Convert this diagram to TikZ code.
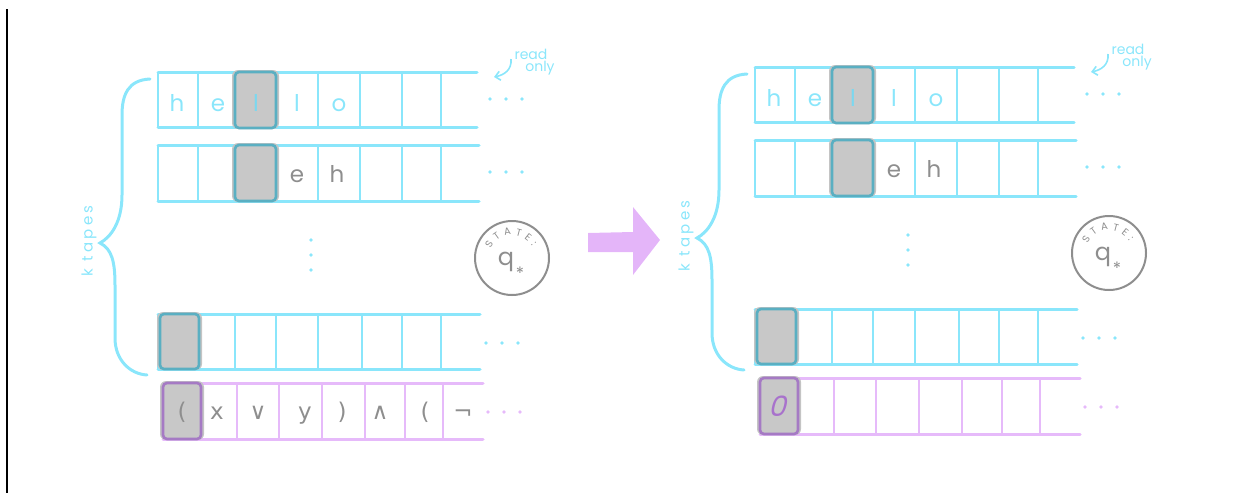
\documentclass[tikz,border=0pt]{standalone}
\usepackage{fontspec}
\setmainfont{Poppins}
\newfontfamily\symfont{DejaVu Sans}
\newfontfamily\spacedfont[LetterSpace=22]{Poppins}
\usetikzlibrary{arrows.meta,decorations.text}
\definecolor{tapecyan}{HTML}{8AE6FB}
\definecolor{tapepurple}{HTML}{E6BAFA}
\definecolor{headteal}{HTML}{5AAFC2}
\definecolor{headpurple}{HTML}{A57AC4}
\definecolor{headfill}{HTML}{C8C8C8}
\definecolor{shadowgray}{HTML}{C4C4C4}
\definecolor{inkgray}{HTML}{8E8E8E}
\definecolor{arrowpurple}{HTML}{E4B5F9}
\definecolor{cyanink}{HTML}{7AD8F0}
\definecolor{zeroink}{HTML}{A872CC}

\newcommand\tapedraw[6]{%
  \draw[tapeline,#6] (#1,#2) -- (#4,#2) (#1,#3) -- (#4,#3);
  \draw[cellline,#6] (#1,#2) -- (#1,#3);
  \foreach \d in {#5} {\draw[cellline,#6] (\d,#2) -- (\d,#3);}
}
\newcommand\headdraw[5]{%
  \fill[shadowbox] (#1-3,#2-2) rectangle (#3+3,#4+1);
  \draw[headbox,draw=#5] (#1,#2) rectangle (#3,#4);
}
\newcommand\commonpanel[1]{%
  % tapes
  \tapedraw{158}{72}{127}{477}{198,235,276,318,360,402,441}{tapecyan}
  \tapedraw{158}{145}{201}{479}{198,235,276,318,360,402,441}{tapecyan}
  \tapedraw{158}{314}{369}{480}{199,235,276,318,362,402,441}{tapecyan}
  \tapedraw{163}{383}{439}{483}{201,237,279,322,365,405,443}{tapepurple}
  % heads
  \headdraw{235}{72}{276}{128}{headteal}
  \headdraw{235}{145}{276}{201}{headteal}
  \headdraw{160}{314}{199}{369}{headteal}
  \headdraw{163}{383}{201}{439}{headpurple}
  % tape 1 letters
  \node[tapech,text=tapecyan] (h#1) at (177,111) {h};
  \node[tapech,text=tapecyan] (e#1) at (218,111) {e};
  \node[tapech,text=cyanink] (la#1) at (256,111) {l};
  \node[tapech,text=tapecyan] (lb#1) at (297,111) {l};
  \node[tapech,text=tapecyan] (o#1) at (339,111) {o};
  % tape 2 letters
  \node[tapech,text=inkgray] (ee#1) at (297,182) {e};
  \node[tapech,text=inkgray] (hh#1) at (337,182) {h};
  % ellipses
  \foreach \x [count=\i] in {490,506,522} {\node[dot,fill=tapecyan] (da\i#1) at (\x,99) {};}
  \foreach \x [count=\i] in {490,506,522} {\node[dot,fill=tapecyan] (db\i#1) at (\x,172) {};}
  \foreach \x [count=\i] in {486,502,518} {\node[dot,fill=tapecyan] (dc\i#1) at (\x,343) {};}
  \foreach \x [count=\i] in {488,504,520} {\node[dot,fill=tapepurple] (dd\i#1) at (\x,412) {};}
  \foreach \y [count=\i] in {240,255,270} {\node[dot,fill=tapecyan] (dv\i#1) at (311,\y) {};}
  % brace
  \coordinate (bt#1) at (150,79);
  \coordinate (bb#1) at (147,375);
  \draw[brace] (bt#1) .. controls (128,80) and (122,95) .. (122,115) -- (122,195)
     .. controls (122,222) and (111,237) .. (100,243)
     .. controls (112,249) and (115,262) .. (115,285) -- (115,338)
     .. controls (115,360) and (130,374) .. (bb#1);
  \node[ktext] (kt#1) at (89,241) {k tapes};
  % read only
  \node[rotext] (rd#1) at (531,54) {read};
  \node[rotext] (on#1) at (540,68) {only};
  \coordinate (ra#1) at (511,59);
  \coordinate (rb#1) at (494,77);
  \draw[roarrow] (ra#1) .. controls (512,70) and (504,75) .. (rb#1);
  % state
  \node[statecirc] (st#1) at (512,258) {};
  \begin{scope}[shift={(512,258)},x=1pt,y=1pt]
    \path[statearc] (157:23) arc[start angle=157,end angle=30,radius=23];
  \end{scope}
  \node[qtext] (q#1) at (506,263) {q};
  \node[startext] (s#1) at (520,273) {*};
}

\begin{document}
\begin{tikzpicture}[x=1pt,y=-1pt,
  tapeline/.style={line width=3pt,line cap=round},
  cellline/.style={line width=2pt},
  headbox/.style={fill=headfill,rounded corners=4pt,line width=2.6pt},
  shadowbox/.style={fill=shadowgray,rounded corners=6pt},
  tapech/.style={anchor=base,inner sep=0pt,font=\fontsize{23}{23}\selectfont},
  symch/.style={anchor=base,inner sep=0pt,text=inkgray,font=\symfont\fontsize{23}{23}\selectfont},
  dot/.style={circle,inner sep=0pt,minimum size=3.6pt,draw=none},
  brace/.style={draw=tapecyan,line width=3pt,line cap=round},
  ktext/.style={rotate=90,text=tapecyan,inner sep=0pt,font=\spacedfont\fontsize{15}{15}\selectfont},
  rotext/.style={text=tapecyan,inner sep=0pt,font=\fontsize{14}{14}\selectfont},
  roarrow/.style={draw=tapecyan,line width=1.6pt,-{Straight Barb[length=5pt,width=9pt]}},
  statecirc/.style={circle,draw=inkgray,line width=2pt,minimum size=74pt,inner sep=0pt},
  statearc/.style={decorate,decoration={text along path,text={STATE:},text align=fit to path,text color=inkgray},font=\fontsize{10.5}{10.5}\selectfont},
  qtext/.style={text=inkgray,inner sep=0pt,text height=10pt,text depth=6pt,font=\fontsize{24}{24}\selectfont},
  startext/.style={text=inkgray,inner sep=0pt,font=\fontsize{17}{17}\selectfont}
]
\useasboundingbox (0,0) rectangle (1244,493);
\coordinate (vt) at (7,9);
\coordinate (vb) at (7,493);
\draw[line width=1.3pt,black] (vt) -- (vb);

% left panel
\commonpanel{L}
\node[symch] (f1) at (182,419) {(};
\node[symch] (f2) at (217,419) {x};
\node[symch] (f3) at (258,419) {∨};
\node[symch] (f4) at (305,419) {y};
\node[symch] (f5) at (342,419) {)};
\node[symch] (f6) at (380,419) {∧};
\node[symch] (f7) at (425,419) {(};
\node[symch] (f8) at (463,419) {¬};

% big arrow
\fill[arrowpurple] (588,233) -- (633,232) -- (633,207) -- (660,240) -- (633,275) -- (633,252) -- (588,252) -- cycle;

% right panel
\begin{scope}[shift={(597,-5)}]
\commonpanel{R}
\node[tapech,text=zeroink,xslant=0.25,font=\fontsize{28}{28}\selectfont] (zero) at (180,421) {0};
\end{scope}
\end{tikzpicture}
\end{document}
